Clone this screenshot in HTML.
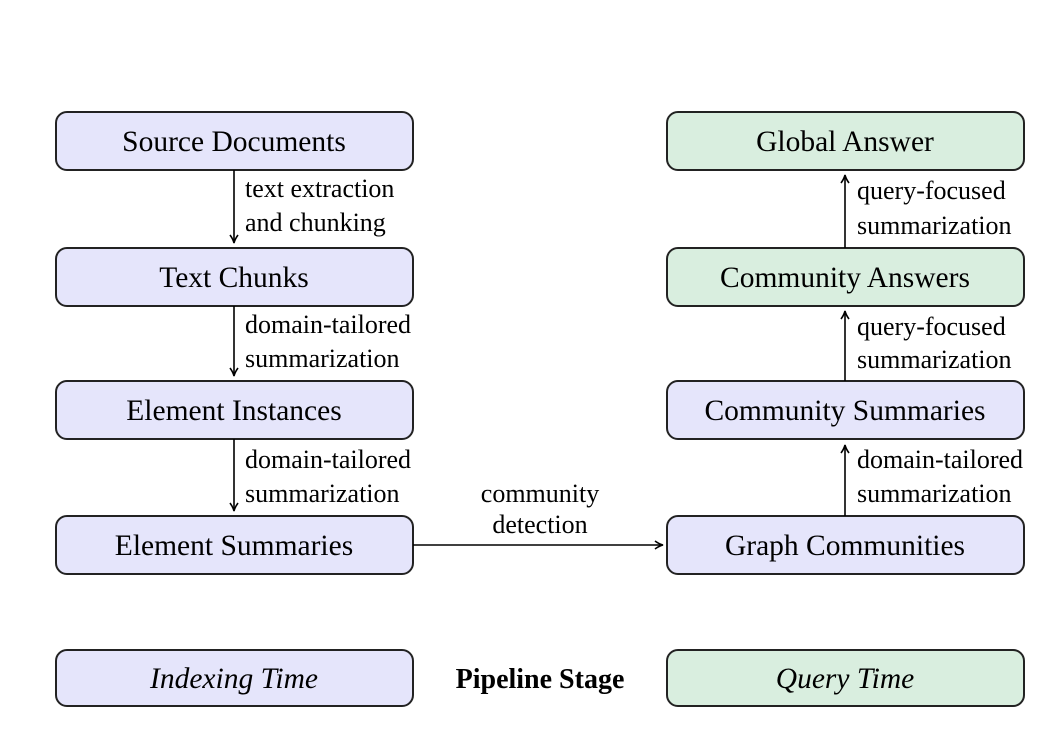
<!DOCTYPE html>
<html><head><style>
html,body{margin:0;padding:0;background:#fff;}
svg text{font-family:"Liberation Serif",serif;fill:#000;}
</style></head><body>
<svg width="1062" height="725" viewBox="0 0 1062 725" xmlns="http://www.w3.org/2000/svg">
<defs>
<marker id="a" markerWidth="10" markerHeight="10" refX="8" refY="5" orient="auto" markerUnits="userSpaceOnUse">
<path d="M1,1 Q5,4 9,5 Q5,6 1,9" fill="none" stroke="#000" stroke-width="1.6"/>
</marker>
</defs>
<g stroke="#222" stroke-width="2">
<rect x="56" y="112" width="357" height="58" rx="11" fill="#e5e5fb"/>
<rect x="56" y="248" width="357" height="58" rx="11" fill="#e5e5fb"/>
<rect x="56" y="381" width="357" height="58" rx="11" fill="#e5e5fb"/>
<rect x="56" y="516" width="357" height="58" rx="11" fill="#e5e5fb"/>
<rect x="667" y="112" width="357" height="58" rx="11" fill="#d9eedf"/>
<rect x="667" y="248" width="357" height="58" rx="11" fill="#d9eedf"/>
<rect x="667" y="381" width="357" height="58" rx="11" fill="#e5e5fb"/>
<rect x="667" y="516" width="357" height="58" rx="11" fill="#e5e5fb"/>
<rect x="56" y="650" width="357" height="56" rx="11" fill="#e5e5fb"/>
<rect x="667" y="650" width="357" height="56" rx="11" fill="#d9eedf"/>
</g>
<g stroke="#000" stroke-width="1.6" marker-end="url(#a)">
<line x1="234" y1="170" x2="234" y2="242"/>
<line x1="234" y1="306" x2="234" y2="375"/>
<line x1="234" y1="439" x2="234" y2="510"/>
<line x1="413" y1="545" x2="662" y2="545"/>
<line x1="845" y1="516" x2="845" y2="446"/>
<line x1="845" y1="381" x2="845" y2="312"/>
<line x1="845" y1="248" x2="845" y2="176"/>
</g>
<g font-size="29.5" text-anchor="middle">
<text x="234" y="151">Source Documents</text>
<text x="234" y="287">Text Chunks</text>
<text x="234" y="420">Element Instances</text>
<text x="234" y="555">Element Summaries</text>
<text x="845" y="151">Global Answer</text>
<text x="845" y="287">Community Answers</text>
<text x="845" y="420">Community Summaries</text>
<text x="845" y="555">Graph Communities</text>
<text x="234" y="688" font-style="italic">Indexing Time</text>
<text x="845" y="688" font-style="italic">Query Time</text>
<text x="540" y="688" font-weight="bold" font-size="28">Pipeline Stage</text>
</g>
<g font-size="26">
<text x="245" y="197">text extraction</text>
<text x="245" y="231">and chunking</text>
<text x="245" y="333">domain-tailored</text>
<text x="245" y="367">summarization</text>
<text x="245" y="468">domain-tailored</text>
<text x="245" y="502">summarization</text>
<text x="857" y="199">query-focused</text>
<text x="857" y="234">summarization</text>
<text x="857" y="335">query-focused</text>
<text x="857" y="368">summarization</text>
<text x="857" y="468">domain-tailored</text>
<text x="857" y="502">summarization</text>
<text x="540" y="502" text-anchor="middle">community</text>
<text x="540" y="533" text-anchor="middle">detection</text>
</g>
</svg>
</body></html>
